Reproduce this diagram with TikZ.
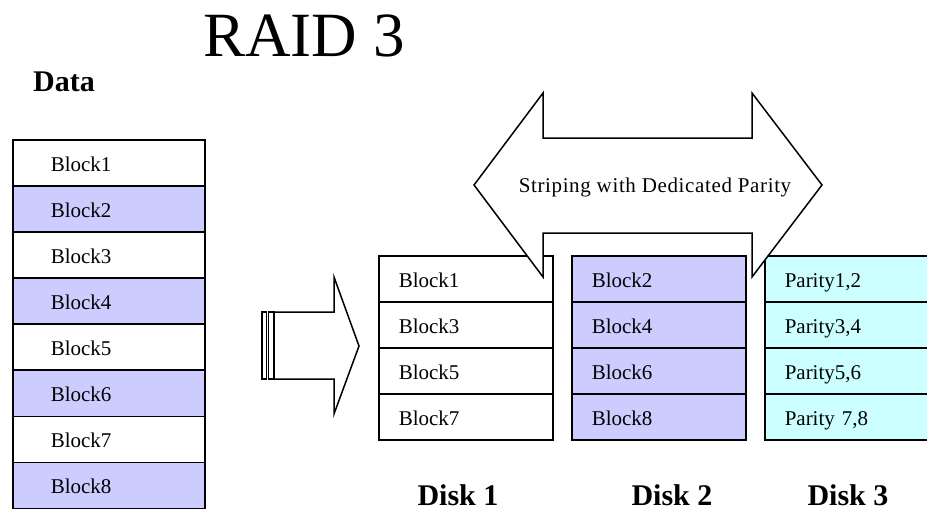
\documentclass[tikz,border=0pt]{standalone}
\usepackage{fontspec}
\setmainfont{Liberation Serif}
\definecolor{lavfill}{RGB}{204,204,255}
\definecolor{cyfill}{RGB}{204,255,255}
\tikzset{
  cell/.style={draw=black, line width=1.5pt, minimum height=46pt, anchor=north west,
    font=\fontsize{21}{24}\selectfont, align=left, inner ysep=0pt,
    text height=17pt, text depth=0pt},
  datacell/.style={cell, text width=116pt, inner xsep=38pt},
  diskcell/.style={cell, text width=134pt, inner xsep=20pt},
  whitecell/.style={fill=white},
  lavcell/.style={fill=lavfill},
  cycell/.style={fill=cyfill},
  outline/.style={draw=black, line width=1.5pt, fill=white, line join=miter},
  heading/.style={font=\bfseries\fontsize{30}{34}\selectfont, anchor=base},
}
\begin{document}
\begin{tikzpicture}[x=1pt, y=-1pt]
  \useasboundingbox (0,0) rectangle (927,511);
  \clip (0,0) rectangle (927,511);

  % title and heading
  \node[anchor=base, font=\fontsize{63}{70}\selectfont] (title) at (304,57) {RAID 3};
  \node[heading] (data) at (64,92) {Data};

  % source data column
  \foreach \i/\s in {1/whitecell,2/lavcell,3/whitecell,4/lavcell,5/whitecell,6/lavcell,7/whitecell,8/lavcell}{
    \node[datacell, \s] (d\i) at (12,{139+46.1*(\i-1)}) {Block\i};
  }

  % disk columns
  \foreach \j/\a in {1/1,2/3,3/5,4/7}{
    \node[diskcell, whitecell] (a\j) at (378,{255+46*(\j-1)}) {Block\a};
  }
  \foreach \j/\b in {1/2,2/4,3/6,4/8}{
    \node[diskcell, lavcell] (b\j) at (571,{255+46*(\j-1)}) {Block\b};
  }
  \node[diskcell, cycell] (c1) at (764,255) {Parity1,2};
  \node[diskcell, cycell] (c2) at (764,301) {Parity3,4};
  \node[diskcell, cycell] (c3) at (764,347) {Parity5,6};
  \node[diskcell, cycell] (c4) at (764,393) {Parity 7,8};

  % disk labels
  \node[heading] (disk1) at (458,505) {Disk 1};
  \node[heading] (disk2) at (672,505) {Disk 2};
  \node[heading] (disk3) at (848,505) {Disk 3};

  % striped right arrow
  \draw[outline, line width=1.3pt] (262,312) rectangle (266.5,379);
  \draw[outline, line width=1.3pt] (268.5,312) rectangle (274,379);
  \draw[outline] (274,312) -- (334,312) -- (334,277) -- (359,346) -- (334,414)
    -- (334,379) -- (274,379) -- cycle;

  % double-headed arrow
  \draw[outline] (474,185) -- (543,93) -- (543,138) -- (752,138) -- (752,93)
    -- (822,185) -- (752,277) -- (752,233) -- (543,233) -- (543,277) -- cycle;
  \node[font=\addfontfeature{LetterSpace=3}\fontsize{21}{24}\selectfont, anchor=base]
    (striping) at (655,192) {Striping with Dedicated Parity};
\end{tikzpicture}
\end{document}
